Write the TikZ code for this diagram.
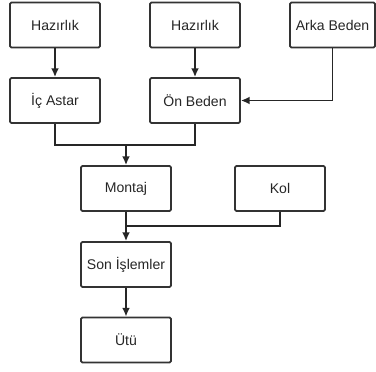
\documentclass[tikz,border=0pt]{standalone}
\usepackage{fontspec}
\setmainfont{Liberation Sans}
\usetikzlibrary{arrows.meta}
\tikzset{
  stepbox/.style={draw=black!80,rectangle,rounded corners=0.8pt,minimum width=1.8cm,minimum height=0.9cm,line width=1pt,text=black!85,font=\fontsize{8}{9}\selectfont},
  link/.style={draw=black!85,line width=1pt},
  flow/.style={link,-{Latex[length=5pt,width=4.5pt]}}
}
\begin{document}
\begin{tikzpicture}[x=0.02cm,y=-0.02cm]
    \useasboundingbox (0,0) rectangle (376,372);
    %% Top row
    \node[stepbox] (haz1) at (55,25) {Hazırlık};
    \node[stepbox] (haz2) at (195,25) {Hazırlık};
    \node[stepbox,minimum width=1.7cm] (arka) at (332.5,25) {Arka Beden};
    %% Second row
    \node[stepbox] (ic) at (55,100.5) {İç Astar};
    \node[stepbox] (on) at (195,100.5) {Ön Beden};
    %% Lower chain
    \node[stepbox] (montaj) at (126,188.5) {Montaj};
    \node[stepbox] (kol) at (280,188.5) {Kol};
    \node[stepbox] (son) at (126,264.5) {Son İşlemler};
    \node[stepbox] (utu) at (126,340) {Ütü};
    %% Joints
    \coordinate (j1) at (126,145);
    \coordinate (j2) at (126,226);
    %% Flow
    \draw[flow] (haz1) -- (ic);
    \draw[flow] (haz2) -- (on);
    \draw[flow] (arka.south) |- (on.east);
    \draw[link] (ic.south) |- (j1) -| (on.south);
    \draw[flow] (j1) -- (montaj);
    \draw[link] (kol.south) |- (j2);
    \draw[flow] (montaj) -- (son);
    \draw[flow] (son) -- (utu);
\end{tikzpicture}
\end{document}
